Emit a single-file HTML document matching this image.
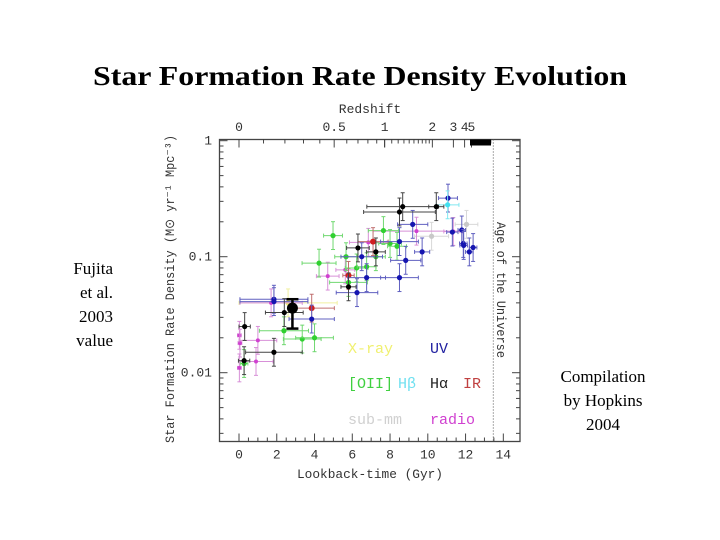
<!DOCTYPE html>
<html><head><meta charset="utf-8"><style>
html,body{margin:0;padding:0;background:#fff;}
#root{position:relative;width:720px;height:540px;overflow:hidden;font-family:"Liberation Serif",serif;}
.side{position:absolute;font-size:17px;line-height:24px;color:#000;}
</style></head><body>
<div id="root">
<svg width="720" height="540" style="position:absolute;left:0;top:0">
<text x="360" y="85" text-anchor="middle" font-family="Liberation Serif" font-weight="bold" font-size="27" textLength="534" lengthAdjust="spacingAndGlyphs">Star Formation Rate Density Evolution</text>
<g id="plot"></g>
</svg>
<div class="side" style="left:40px;top:257px;width:73px;text-align:right;">Fujita<br>et al.<br>2003<br>value</div>
<div class="side" style="left:545px;top:365px;width:116px;text-align:center;">Compilation<br>by Hopkins<br>2004</div>
</div>
<script>
// Data arrays: lookback time (Gyr), SFR density, x half-error (Gyr)
const haT=[0.3,0.27,1.85,2.4,6.3,7.25,5.8,8.5,8.67,10.45];
const haV=[0.025,0.0127,0.015,0.033,0.119,0.11,0.055,0.243,0.27,0.27];
const haDt=[0.3,0.3,1.5,1.0,0.6,0.5,0.4,1.9,1.9,0.4];
const uvT=[1.85,1.85,3.85,6.5,6.25,6.76,8.5,8.5,8.83,9.2,9.7,11.07,11.3,11.8,11.88,11.9,12.2,12.4];
const uvV=[0.043,0.041,0.029,0.1,0.049,0.066,0.135,0.066,0.093,0.19,0.11,0.32,0.163,0.17,0.13,0.125,0.11,0.12];
const uvDt=[1.8,1.8,1.2,1.1,1.1,1.0,1.0,1.0,0.8,0.8,0.4,0.5,0.3,0.2,0.2,0.2,0.2,0.2];
const oiiT=[0.27,2.38,3.35,4.0,4.24,4.98,5.67,5.8,6.23,6.76,7.25,7.65,8.0,8.37];
const oiiV=[0.012,0.023,0.0195,0.02,0.088,0.152,0.1,0.06,0.08,0.082,0.1,0.168,0.13,0.123];
const oiiDt=[0.2,1.3,1.0,1.0,0.9,0.5,0.6,1.0,0.6,0.5,0.5,0.8,0.6,0.5];
const irT=[3.85,5.8,7.1];
const irV=[0.036,0.069,0.135];
const irDt=[1.2,0.3,0.8];
const radT=[0.02,0.05,0.02,1.0,0.9,4.7,5.63,6.85,9.4,11.35,1.7];
const radV=[0.021,0.018,0.011,0.019,0.0125,0.068,0.077,0.133,0.166,0.165,0.04];
const radDt=[0.1,0.1,0.1,1.0,0.9,0.6,0.5,1.0,2.3,0.5,1.65];
const hbT=[11.05];const hbV=[0.28];const hbDt=[0.6];
const smT=[10.2,12.05];const smV=[0.15,0.19];const smDt=[0.9,0.6];
const xrT=[2.6];const xrV=[0.04];const xrDt=[2.6];
const fujT=[2.83];const fujV=[0.036];const fujLo=[0.024];const fujHi=[0.043];
const xTicks=[0,2,4,6,8,10,12,14];
const yTicks=[1,0.1,0.01];
const yTickLabels=["1","0.1","0.01"];
const zLabels=[0,0.5,1,2,3,4,5];

const L=219.5,R=520,T=139.5,B=441.5;
const X=t=>239+t*18.88;
const Y=v=>140.7-116*Math.log10(v);
const NS="http://www.w3.org/2000/svg";
const g=document.getElementById('plot');
function mk(tag,attrs,parent){const e=document.createElementNS(NS,tag);for(const k in attrs)e.setAttribute(k,attrs[k]);(parent||g).appendChild(e);return e;}
function lookback(z){const f=a=>11.13*Math.asinh(1.5275*Math.pow(1+a,-1.5));return f(0)-f(z);}

const frame=mk('rect',{x:L,y:T,width:R-L,height:B-T,fill:'none',stroke:'#444','stroke-width':1.3});


for(let t=0;t<=14.01;t+=0.5){const major=Math.abs(t%2)<0.01;const len=major?8:4;
 const a=mk('line',{x1:X(t),x2:X(t),y1:B,y2:B-len,stroke:'#444','stroke-width':1});
 }
xTicks.forEach(t=>{const tx=mk('text',{x:X(t),y:B+17,'text-anchor':'middle','font-family':'Liberation Mono','font-size':13,fill:'#333'});tx.textContent=String(t);
 });
for(let d=-3;d<=0;d++){for(let m=1;m<10;m++){const v=m*Math.pow(10,d);const y=Y(v);if(y>B||y<T-1)continue;const len=m===1?8:4;
 mk('line',{x1:L,x2:L+len,y1:y,y2:y,stroke:'#444'});mk('line',{x1:R,x2:R-len,y1:y,y2:y,stroke:'#444'});}}
yTicks.forEach((v,i)=>{const tx=mk('text',{x:212,y:Y(v)+4,'text-anchor':'end','font-family':'Liberation Mono','font-size':13,fill:'#333'});tx.textContent=yTickLabels[i];
 });
const zt=[];for(let z=0;z<1;z+=0.1)zt.push([z,z%0.5<0.01||z%0.5>0.49]);
for(let z=1;z<=5;z+=1)zt.push([z,true]);for(let z=1.1;z<2;z+=0.1)zt.push([z,false]);
for(let z=6;z<=60;z+=z<20?1:5)zt.push([z,false]);
zt.forEach(([z,maj])=>{const x=X(lookback(z));if(x>491)return;mk('line',{x1:x,x2:x,y1:T,y2:T+(maj?8:4),stroke:'#333','stroke-width':0.9});});
mk('rect',{x:470,y:T,width:21,height:6,fill:'#000'});
zLabels.forEach(z=>{const tx=mk('text',{x:X(lookback(z)),y:131,'text-anchor':'middle','font-family':'Liberation Mono','font-size':13,fill:'#333'});tx.textContent=String(z);
 });
const ag=mk('line',{x1:X(13.47),x2:X(13.47),y1:T,y2:B,stroke:'#555','stroke-dasharray':'1,2'});

function txt(s,attrs,name){const e=mk('text',attrs);e.textContent=s;return e;}
txt('Age of the Universe',{x:0,y:0,transform:'translate(497,222) rotate(90)','font-family':'Liberation Mono','font-size':13,fill:'#333',textLength:136,lengthAdjust:'spacingAndGlyphs'},'age-label');
txt('Redshift',{x:370,y:113,'text-anchor':'middle','font-family':'Liberation Mono','font-size':13,fill:'#333'},'top-axis-title');
txt('Lookback-time (Gyr)',{x:370,y:478,'text-anchor':'middle','font-family':'Liberation Mono','font-size':13,fill:'#333',textLength:146,lengthAdjust:'spacingAndGlyphs'},'x-axis-title');
txt('Star Formation Rate Density (M\u2299 yr\u207B\u00B9 Mpc\u207B\u00B3)',{x:0,y:0,transform:'translate(174,443) rotate(-90)','font-family':'Liberation Mono','font-size':13,fill:'#333',textLength:308,lengthAdjust:'spacingAndGlyphs'},'y-axis-title');
const legend=[['X-ray',348,353,'#f0f070'],['UV',430,353,'#2020a0'],['[OII]',348,388,'#40d040'],['H\u03B2',398,388,'#70e0f0'],['H\u03B1',430,388,'#222'],['IR',463,388,'#c04040'],['sub-mm',348,424,'#d0d0d0'],['radio',430,424,'#d040d0']];
legend.forEach(([s,x,y,c])=>txt(s,{x:x,y:y,'font-family':'Liberation Mono','font-size':15,fill:c},'legend-entry'));
function series(ts,vs,dts,col,ecol,name,r){
 ts.forEach((t,i)=>{const v=vs[i];const x=X(t),y=Y(v);const dl=0.12,du=0.12;
  const eg=mk('g',{stroke:ecol,'stroke-width':1});
  
  mk('line',{x1:X(t-dts[i]),x2:X(t+dts[i]),y1:y,y2:y},eg);
  mk('line',{x1:X(t-dts[i]),x2:X(t-dts[i]),y1:y-2,y2:y+2},eg);
  mk('line',{x1:X(t+dts[i]),x2:X(t+dts[i]),y1:y-2,y2:y+2},eg);
  const y1=Y(v*Math.pow(10,du)),y2=Y(v/Math.pow(10,dl));
  mk('line',{x1:x,x2:x,y1:y1,y2:y2},eg);
  mk('line',{x1:x-2,x2:x+2,y1:y1,y2:y1},eg);mk('line',{x1:x-2,x2:x+2,y1:y2,y2:y2},eg);
  const c=mk('circle',{cx:x,cy:y,r:r||2.6,fill:col});
  });
}
series(smT,smV,smDt,'#c8c8c8','#d8d8d8','submm');
series(xrT,xrV,xrDt,'#f0f070','#f0f0a0','xray');
series(radT,radV,radDt,'#d040d0','#d890d8','radio',2);
series(oiiT,oiiV,oiiDt,'#30d030','#70d870','oii');
series(irT,irV,irDt,'#d02020','#c07070','ir',3);
series(uvT,uvV,uvDt,'#1515b0','#6060c0','uv');
series(hbT,hbV,hbDt,'#40e0f0','#80e8f0','hbeta');
series(haT,haV,haDt,'#000','#444','halpha');
fujT.forEach((t,i)=>{const x=X(t);const fg=mk('g',{stroke:'#000','stroke-width':2.5});
 
 mk('line',{x1:x,x2:x,y1:Y(fujHi[i]),y2:Y(fujLo[i])},fg);
 mk('line',{x1:x-6,x2:x+6,y1:Y(fujHi[i]),y2:Y(fujHi[i])},fg);
 mk('line',{x1:x-6,x2:x+6,y1:Y(fujLo[i]),y2:Y(fujLo[i])},fg);
 const c=mk('circle',{cx:x,cy:Y(fujV[i]),r:5.5,fill:'#000'});
 });
</script>
</body></html>
